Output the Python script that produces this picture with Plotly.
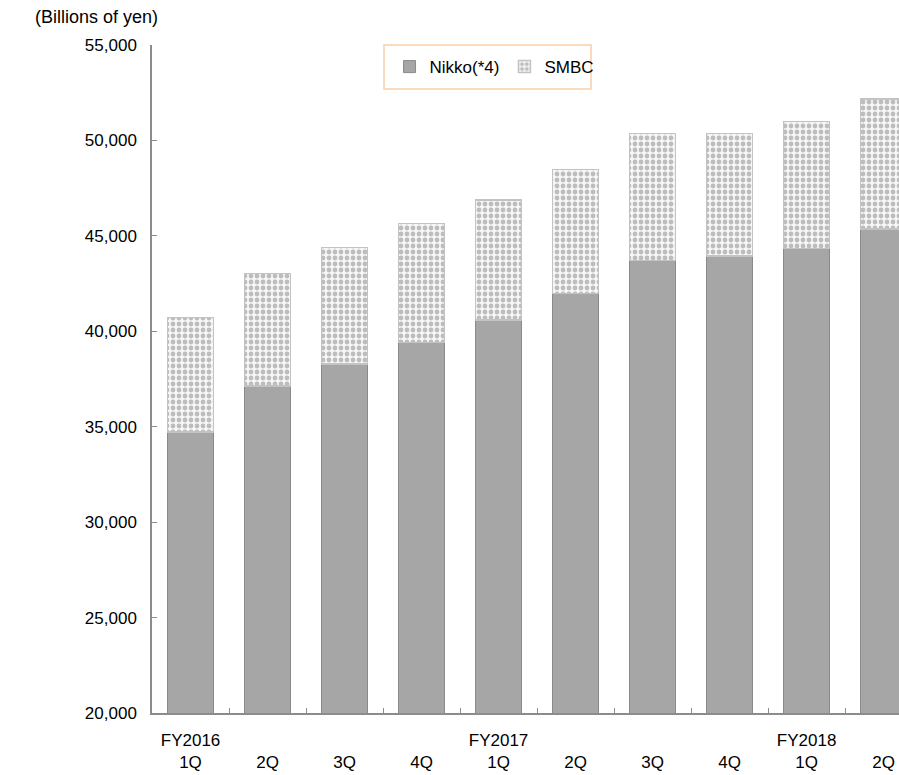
import plotly.graph_objects as go

categories = ["FY2016<br>1Q", "<br>2Q", "<br>3Q", "<br>4Q", "FY2017<br>1Q",
              "<br>2Q", "<br>3Q", "<br>4Q", "FY2018<br>1Q", "<br>2Q"]
nikko = [34720, 37140, 38290, 39420, 40590, 41970, 43720, 43950, 44330, 45370]
smbc = [6010, 5880, 6100, 6230, 6300, 6510, 6650, 6420, 6660, 6790]
y_ticks = [20000, 25000, 30000, 35000, 40000, 45000, 50000, 55000]
y_tick_text = ["20,000", "25,000", "30,000", "35,000", "40,000", "45,000", "50,000", "55,000"]

FONT = "Liberation Sans, Arial, sans-serif"

pos = list(range(len(categories)))
boundaries = [p + 0.5 for p in pos]

fig = go.Figure()
fig.add_trace(go.Bar(
    x=pos, y=nikko, name="Nikko(*4)",
    marker=dict(color="#a6a6a6", line=dict(color="#8a8a8a", width=1)),
    width=0.6,
))
fig.add_trace(go.Bar(
    x=pos, y=smbc, name="SMBC",
    marker=dict(color="#f2f2f2", line=dict(color="#c3c3c3", width=1.5),
                pattern=dict(shape=".", fgcolor="#bdbdbd", bgcolor="#f7f7f7",
                             size=6, solidity=0.5, fillmode="replace")),
    width=0.6,
))

fig.update_layout(
    width=899, height=775,
    barmode="stack",
    plot_bgcolor="white", paper_bgcolor="white",
    margin=dict(l=152, r=0, t=45, b=62),
    font=dict(family=FONT, size=17, color="#000000"),
    showlegend=True,
    legend=dict(
        orientation="h", x=0.318, y=0.967, xanchor="left", yanchor="middle",
        borderwidth=0, bgcolor="rgba(0,0,0,0)",
        font=dict(family="Liberation Sans Narrow, Arial Narrow, Liberation Sans, sans-serif", size=17),
        traceorder="normal",
    ),
    shapes=[dict(
        type="rect", xref="paper", yref="paper",
        x0=0.3106, x1=0.5877, y0=0.9341, y1=1.0,
        line=dict(color="#f9cfa8", width=1.5), fillcolor="rgba(0,0,0,0)", layer="above",
    )],
    xaxis=dict(
        range=[-0.5, 9.2], tickvals=pos, ticktext=categories,
        showline=True, linecolor="#8c8c8c", linewidth=1.5,
        ticks="", showgrid=False, zeroline=False, tickangle=0, ticklabelstandoff=11,
        tickfont=dict(family=FONT, size=17),
        minor=dict(tickvals=boundaries, ticks="inside", ticklen=5, tickcolor="#8c8c8c",
                   showgrid=False),
    ),
    yaxis=dict(
        range=[20000, 55000], tickvals=y_ticks, ticktext=y_tick_text,
        showline=True, linecolor="#8c8c8c", linewidth=1.5,
        ticks="inside", ticklen=5, tickcolor="#8c8c8c",
        showgrid=False, zeroline=False, ticklabelstandoff=10,
        tickfont=dict(family=FONT, size=17),
    ),
    annotations=[dict(
        text="(Billions of yen)", xref="paper", yref="paper", x=0, y=1,
        xanchor="right", yanchor="bottom", xshift=8, yshift=16,
        showarrow=False, font=dict(family=FONT, size=18),
    )],
)

fig.write_html("out.html", config={"displayModeBar": False},
               post_script="document.body.style.margin='0';document.body.style.overflow='hidden';")
